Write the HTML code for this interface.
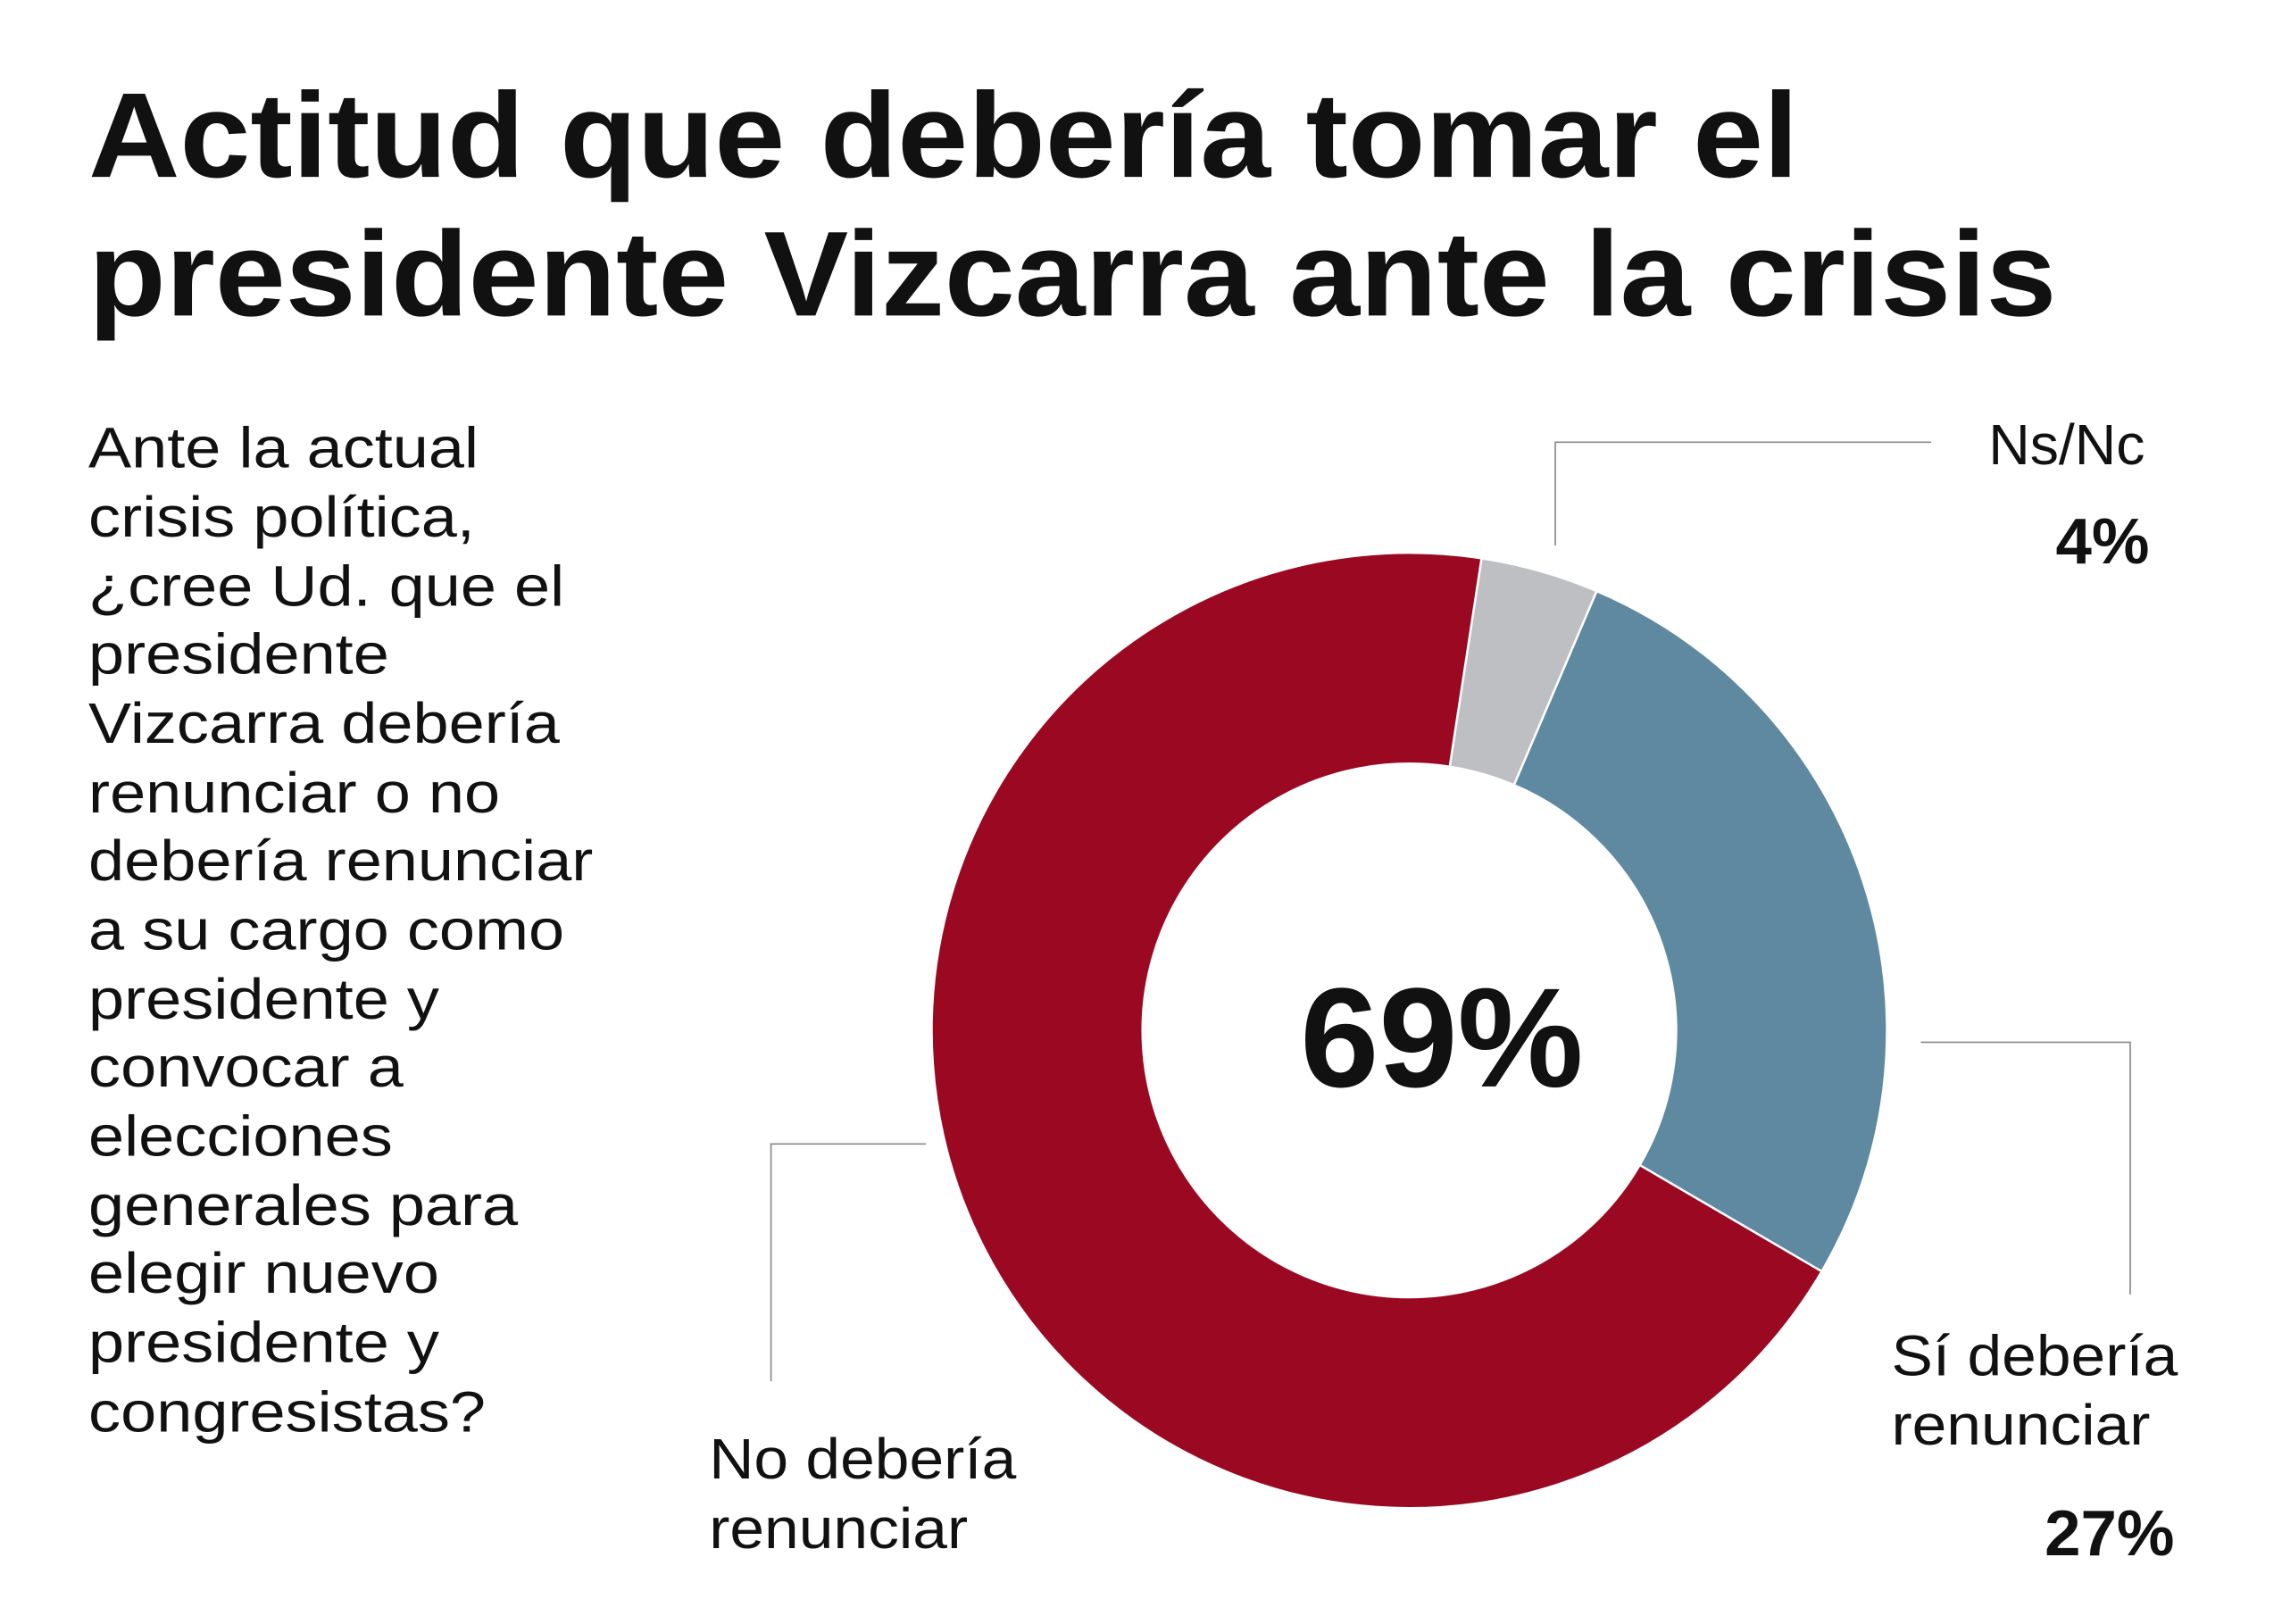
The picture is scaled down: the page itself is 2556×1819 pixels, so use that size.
<!DOCTYPE html>
<html><head><meta charset="utf-8"><style>
html,body{margin:0;padding:0;background:#fff}
svg{display:block}
text{font-family:"Liberation Sans",sans-serif;fill:#111}
</style></head><body>
<svg id="chart" width="2556" height="1819" viewBox="0 0 2556 1819" xmlns="http://www.w3.org/2000/svg">
<rect width="2556" height="1819" fill="#fff"/>
<g transform="scale(1.6512)">
<g font-weight="bold">
<text x="60" y="120" font-size="82" textLength="1160" lengthAdjust="spacingAndGlyphs" style="font-weight:900">Actitud que debería tomar el</text>
<text x="60" y="214" font-size="82" textLength="1335" lengthAdjust="spacingAndGlyphs" style="font-weight:900">presidente Vizcarra ante la crisis</text>
</g>
<g font-size="39" transform="translate(60,0) scale(1.12,1) translate(-60,0)">
<text x="60" y="317">Ante la actual</text>
<text x="60" y="364">crisis política,</text>
<text x="60" y="411">¿cree Ud. que el</text>
<text x="60" y="457">presidente</text>
<text x="60" y="504">Vizcarra debería</text>
<text x="60" y="551">renunciar o no</text>
<text x="60" y="597">debería renunciar</text>
<text x="60" y="644">a su cargo como</text>
<text x="60" y="691">presidente y</text>
<text x="60" y="737">convocar a</text>
<text x="60" y="784">elecciones</text>
<text x="60" y="831">generales para</text>
<text x="60" y="877">elegir nuevo</text>
<text x="60" y="924">presidente y</text>
<text x="60" y="971">congresistas?</text>
</g>
<g id="slices"></g>
<text x="978" y="737" font-size="96" font-weight="bold" text-anchor="middle">69%</text>
<g fill="none" stroke="#888" stroke-width="1">
<polyline points="1055,370 1055,300 1310,300"/>
<polyline points="1303,707 1445,707 1445,878"/>
<polyline points="628,776 523,776 523,937"/>
</g>
<g>
<text x="1455" y="315" font-size="39" text-anchor="end">Ns/Nc</text>
<text x="1458" y="382" font-size="44" font-weight="bold" text-anchor="end">4%</text>
</g>
<g>
<g transform="translate(1283,0) scale(1.08,1) translate(-1283,0)">
<text x="1283" y="933" font-size="39">Sí debería</text>
<text x="1283" y="980" font-size="39">renunciar</text>
</g>
<text x="1475" y="1055" font-size="44" font-weight="bold" text-anchor="end">27%</text>
</g>
<g transform="translate(481,0) scale(1.08,1) translate(-481,0)">
<text x="481" y="1003" font-size="39">No debería</text>
<text x="481" y="1050" font-size="39">renunciar</text>
</g>
</g>
</svg>
<script>
const categories = ["Ns/Nc", "Sí debería renunciar", "No debería renunciar"];
const values = [4, 27, 69];
const colors = ["#bebfc3", "#5f89a0", "#9b0821"];
const startDeg = 8.7;
const cx = 956, cy = 699, R = 324, r = 181;
const g = document.getElementById('slices');
const total = values.reduce((a,b)=>a+b,0);
function pt(deg, rad){const a=(deg-90)*Math.PI/180;return [cx+rad*Math.cos(a), cy+rad*Math.sin(a)];}
let acc = startDeg;
values.forEach((v,i)=>{
  const a0 = acc, a1 = acc + v/total*360; acc = a1;
  const large = (a1-a0)>180?1:0;
  const p0=pt(a0,R),p1=pt(a1,R),q1=pt(a1,r),q0=pt(a0,r);
  const d=`M${p0[0]},${p0[1]} A${R},${R} 0 ${large} 1 ${p1[0]},${p1[1]} L${q1[0]},${q1[1]} A${r},${r} 0 ${large} 0 ${q0[0]},${q0[1]} Z`;
  const path=document.createElementNS('http://www.w3.org/2000/svg','path');
  path.setAttribute('d',d);
  path.setAttribute('fill',colors[i]);
  path.setAttribute('stroke','#fff');
  path.setAttribute('stroke-width','1.5');
  
  
  g.appendChild(path);
});
</script>
</body></html>
